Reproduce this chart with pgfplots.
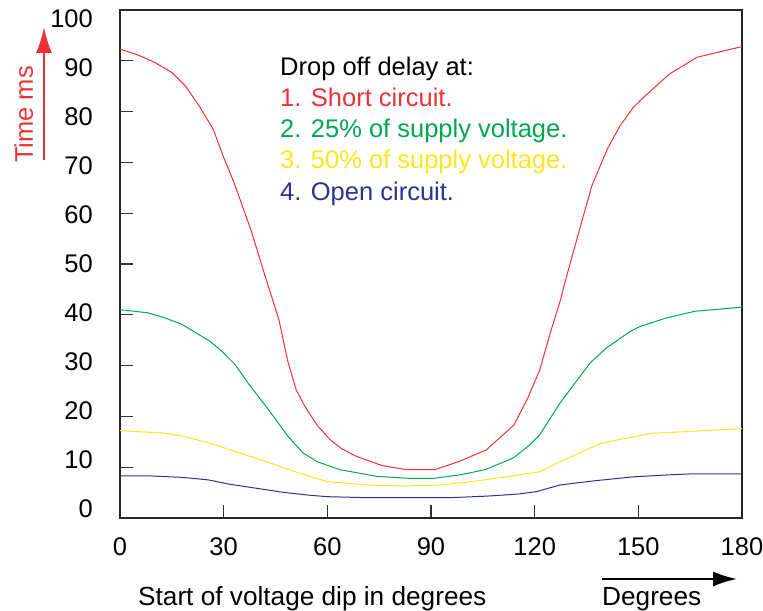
\documentclass[border=0pt]{standalone}
\usepackage{fontspec}
\setmainfont{Liberation Sans}
\usepackage{pgfplots}
\pgfplotsset{compat=1.18}
\usetikzlibrary{arrows.meta}

\definecolor{cred}{RGB}{237,50,55}
\definecolor{cgreen}{RGB}{0,166,81}
\definecolor{cyellow}{RGB}{255,228,30}
\definecolor{cblue}{RGB}{46,49,146}

\newcommand{\bigfont}{\fontsize{25.5bp}{30bp}\selectfont}

\begin{document}
\begin{tikzpicture}
\begin{axis}[
    scale only axis,
    width=622bp, height=508bp,
    xmin=0, xmax=180,
    ymin=0, ymax=100,
    xtick={0,30,...,180},
    ytick={0,10,...,100},
    yticklabels={},
    xtick pos=bottom,
    ytick pos=left,
    tick align=inside,
    major tick length=13bp,
    tick style={black!80, line width=1.2bp},
    axis line style={black!85, line width=1.2bp},
    /pgf/number format/assume math mode=true,
    tick label style={font=\bigfont},
    xticklabel style={yshift=-16bp},
    every axis plot/.append style={line width=1bp, mark=none},
]
% 1. short circuit
\addplot[cred] coordinates {
  (0,92.3)(5,91.2)(10,89.7)(15,87.7)(19,85.0)(23,81.0)(27,76.5)(30,71.0)
  (33,66.0)(38,56.5)(42,47.6)(46,39.0)(48.5,31.0)(51,25.2)(53.5,22.0)(57,18.3)
  (61,15.3)(64,13.7)(68.5,12.1)(76,10.3)(83,9.5)(91,9.5)(98,11.1)(106,13.4)
  (114,18.3)(118,23.6)(121.5,29.2)(124.5,36.4)(127.5,43.0)(129,47.0)(133,56.8)
  (136.5,65.3)(141,72.6)(144.7,77.2)(148.5,80.8)(151.5,82.8)(159,87.4)(167,90.7)(180,92.8)
};
% 2. 25% of supply voltage
\addplot[cgreen] coordinates {
  (0,41.0)(8,40.4)(13,39.4)(18,38.1)(26,34.8)(29.5,32.8)(33.3,30.2)(37,26.6)
  (43,21.3)(48.7,16.0)(53,12.8)(57,11.1)(63.7,9.5)(74.3,8.2)(84,7.8)(90.7,7.8)
  (98.4,8.5)(105.6,9.5)(113.8,11.8)(118.6,14.4)(121.5,16.4)(127.3,22.6)(131.7,26.6)
  (136,30.5)(140.8,33.5)(147.6,36.7)(150.5,37.7)(158.2,39.4)(166.4,40.7)(180,41.5)
};
% 3. 50% of supply voltage
\addplot[cyellow] coordinates {
  (0,17.2)(13,16.7)(19,16.0)(27.5,14.4)(33.3,13.1)(41,11.4)(47.7,9.8)(53.5,8.5)
  (59.8,7.2)(71.4,6.5)(82,6.3)(92.6,6.5)(102.2,7.2)(112.8,8.2)(121.5,9.1)
  (128.3,11.4)(138.9,14.6)(144.7,15.5)(154.3,16.7)(164,17.0)(180,17.6)
};
% 4. open circuit
\addplot[cblue] coordinates {
  (0,8.3)(8,8.3)(18,8.0)(25.6,7.5)(31.3,6.7)(39,5.9)(46.8,5.1)(54.5,4.5)
  (60,4.2)(71.4,4.0)(95.5,4.0)(106,4.3)(115,4.7)(120.6,5.2)(127.3,6.5)
  (137,7.3)(148.5,8.1)(159,8.5)(166,8.7)(180,8.7)
};
\end{axis}

% y tick labels (set slightly off the ticks, as in the original drawing)
\foreach \v in {0,10,...,100}
  \node[anchor=east, inner sep=0pt, font=\bigfont] at (-27bp,{(9+4.9*\v)*1bp}) {\v};

% legend text
\node[anchor=base west, inner sep=0pt, font=\bigfont] at (160bp,442bp) {Drop off delay at:};
\node[anchor=base west, inner sep=0pt, font=\bigfont, text=cred] at (160bp,411bp) {1. Short circuit.};
\node[anchor=base west, inner sep=0pt, font=\bigfont, text=cgreen] at (160bp,380bp) {2. 25\% of supply voltage.};
\node[anchor=base west, inner sep=0pt, font=\bigfont, text=cyellow] at (160bp,349bp) {3. 50\% of supply voltage.};
\node[anchor=base west, inner sep=0pt, font=\bigfont, text=cblue] at (160bp,317bp) {4. Open circuit.};

% y label with arrow
\node[anchor=base west, inner sep=0pt, rotate=90, font=\bigfont, text=cred] at (-87bp,355bp) {Time ms};
\draw[cred, line width=2bp, -{Latex[length=26bp,width=16bp]}] (-76bp,358bp) -- (-76bp,491bp);

% x label and arrow
\node[anchor=base west, inner sep=0pt, font=\fontsize{26.2bp}{30bp}\selectfont] at (18bp,-87bp) {Start of voltage dip in degrees};
\node[anchor=base west, inner sep=0pt, font=\fontsize{26.2bp}{30bp}\selectfont] at (482bp,-87bp) {Degrees};
\draw[black, line width=2bp, -{Latex[length=24bp,width=15bp]}] (482bp,-61bp) -- (617bp,-61bp);

\pgfresetboundingbox
\useasboundingbox (-120bp,-93bp) rectangle (643bp,518bp);
\end{tikzpicture}
\end{document}
